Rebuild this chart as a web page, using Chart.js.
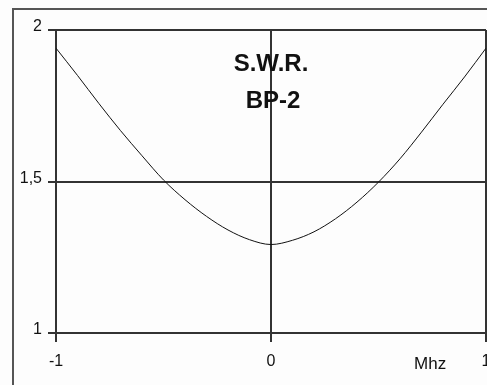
<!DOCTYPE html>
<html lang="en">
<head>
    <meta charset="UTF-8">
    <title>S.W.R. BP-2</title>
    <script src="https://cdn.jsdelivr.net/npm/chart.js"></script>
    <style>
        html, body { margin: 0; padding: 0; background: #fdfdfd; }
        #wrap { width: 487px; height: 385px; }
    </style>
</head>
<body>
    <div id="wrap"><canvas id="swrChart" width="487" height="385"></canvas></div>

<script>
// valores
const freqs = [-1, -0.9, -0.8, -0.7, -0.6, -0.5, -0.4, -0.3, -0.2, -0.1, 0, 0.1, 0.2, 0.3, 0.4, 0.5, 0.6, 0.7, 0.8, 0.9, 1];
const swr = [1.94, 1.85, 1.757, 1.668, 1.585, 1.505, 1.44, 1.385, 1.34, 1.308, 1.292, 1.306, 1.334, 1.377, 1.432, 1.498, 1.575, 1.663, 1.755, 1.845, 1.94];
const yTicks = [1, 1.5, 2];
const xTicks = [-1, 0, 1];
const titleLines = ['S.W.R.', 'BP-2'];
const unitLabel = 'Mhz';

const lineColor = '#333';
const fontFamily = '"Liberation Sans", Arial, sans-serif';

// moldura, titulo e unidade
const decor = {
    id: 'decor',
    beforeDraw(chart) {
        const ctx = chart.ctx;
        ctx.save();
        ctx.fillStyle = '#fdfdfd';
        ctx.fillRect(0, 0, chart.width, chart.height);
        ctx.strokeStyle = '#555';
        ctx.lineWidth = 2;
        ctx.strokeRect(13, 9, chart.width + 20, chart.height + 20);
        ctx.restore();
    },
    afterDraw(chart) {
        const ctx = chart.ctx;
        const x = chart.scales.x;
        const top = chart.chartArea.top;
        ctx.save();
        ctx.fillStyle = '#111';
        ctx.textAlign = 'center';
        ctx.textBaseline = 'middle';
        ctx.font = 'bold 24px ' + fontFamily;
        ctx.fillText(titleLines[0], x.getPixelForValue(0), top + 34);
        ctx.fillText(titleLines[1], x.getPixelForValue(0) + 2, top + 71);
        ctx.font = '17px ' + fontFamily;
        ctx.fillText(unitLabel, x.getPixelForValue(0.74), 364);
        ctx.restore();
    }
};

const ctx = document.getElementById('swrChart').getContext('2d');
new Chart(ctx, {
    type: 'line',
    data: {
        datasets: [{
            data: freqs.map((f, i) => ({ x: f, y: swr[i] })),
            borderColor: '#111',
            borderWidth: 1,
            pointRadius: 0,
            cubicInterpolationMode: 'monotone',
            fill: false
        }]
    },
    options: {
        responsive: false,
        animation: false,
        layout: { padding: { top: 30, right: 1, left: 0, bottom: 0 } },
        plugins: { legend: { display: false }, tooltip: { enabled: false } },
        scales: {
            x: {
                type: 'linear',
                min: -1,
                max: 1,
                afterBuildTicks: s => { s.ticks = xTicks.map(v => ({ value: v })); },
                afterFit: s => { s.height = 52; s.paddingLeft = 0; s.paddingRight = 0; },
                grid: { color: lineColor, lineWidth: 2, tickLength: 9, tickColor: lineColor },
                border: { color: lineColor, width: 2 },
                ticks: {
                    color: '#111',
                    padding: 10,
                    maxRotation: 0,
                    font: { family: fontFamily, size: 16 },
                    callback: v => String(v)
                }
            },
            y: {
                min: 1,
                max: 2,
                afterBuildTicks: s => { s.ticks = yTicks.map(v => ({ value: v })); },
                afterFit: s => { s.width = 56; s.paddingTop = 0; s.paddingBottom = 0; },
                grid: { color: lineColor, lineWidth: 2, tickLength: 8, tickColor: lineColor },
                border: { color: lineColor, width: 2 },
                ticks: {
                    color: '#111',
                    padding: 6,
                    labelOffset: -3,
                    font: { family: fontFamily, size: 16 },
                    callback: v => String(v).replace('.', ',')
                }
            }
        }
    },
    plugins: [decor]
});
</script>
</body>
</html>
